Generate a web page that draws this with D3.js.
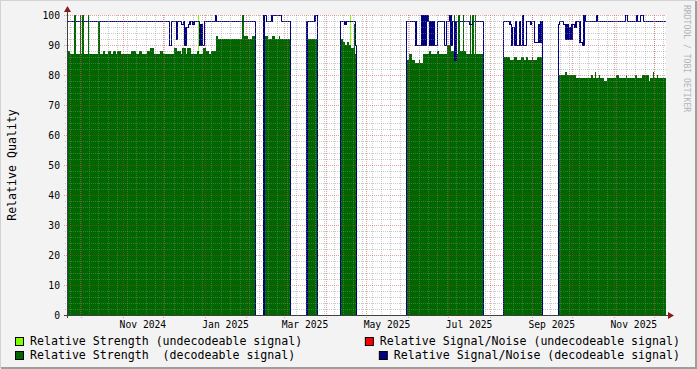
<!DOCTYPE html>
<html>
<head>
<meta charset="utf-8">
<script src="https://cdn.jsdelivr.net/npm/d3@7"></script>
<style>
  body { margin: 0; background: #f3f3f3; }
  svg { display: block; font-family: "DejaVu Sans Mono", monospace; }
  text { white-space: pre; }
</style>
</head>
<body>
<svg id="chart" width="697" height="369"></svg>
<script>
const startTime = "2024-09-20T14:00Z";
const endTime = "2025-12-09T22:00Z";

// change points [day, value]; each value holds until the next day
const strengthDecodeable = [
  ["2024-09-20", 87], ["2024-09-21", 88], ["2024-09-23", 87],
  ["2024-09-26", 100], ["2024-09-27", 87], ["2024-09-30", 100], ["2024-10-01", 87],
  ["2024-10-02", 100], ["2024-10-03", 87], ["2024-10-06", 100], ["2024-10-07", 87],
  ["2024-10-14", 98], ["2024-10-15", 87], ["2024-10-17", 88], ["2024-10-19", 87],
  ["2024-10-21", 88], ["2024-10-23", 87], ["2024-10-25", 88], ["2024-10-27", 87],
  ["2024-10-28", 88], ["2024-10-31", 87], ["2024-11-07", 88], ["2024-11-11", 87],
  ["2024-11-13", 88], ["2024-11-15", 87], ["2024-11-19", 88], ["2024-11-21", 89],
  ["2024-11-24", 87], ["2024-11-29", 88], ["2024-12-01", 87], ["2024-12-09", 89],
  ["2024-12-11", 88], ["2024-12-14", 87], ["2024-12-15", 89], ["2024-12-18", 87],
  ["2024-12-19", 89], ["2024-12-22", 87], ["2024-12-26", 88], ["2024-12-28", 87],
  ["2024-12-31", 89], ["2025-01-02", 88], ["2025-01-04", 87], ["2025-01-06", 88],
  ["2025-01-09", 93], ["2025-01-11", 92], ["2025-01-29", 100], ["2025-01-30", 93],
  ["2025-02-02", 92], ["2025-02-05", 93], ["2025-02-08", 0],
  ["2025-02-14", 93], ["2025-02-17", 92], ["2025-02-20", 93], ["2025-02-22", 92],
  ["2025-02-25", 93], ["2025-02-26", 92], ["2025-03-06", 0],
  ["2025-03-18", 92], ["2025-03-26", 0],
  ["2025-04-12", 92], ["2025-04-14", 91], ["2025-04-15", 90], ["2025-04-17", 91],
  ["2025-04-18", 90], ["2025-04-20", 89], ["2025-04-22", 97], ["2025-04-23", 87],
  ["2025-04-24", 0],
  ["2025-05-31", 85], ["2025-06-02", 87], ["2025-06-04", 85], ["2025-06-06", 84],
  ["2025-06-09", 85], ["2025-06-10", 84], ["2025-06-12", 87], ["2025-06-17", 88],
  ["2025-06-18", 87], ["2025-06-23", 88], ["2025-06-24", 87], ["2025-06-30", 90],
  ["2025-07-02", 100], ["2025-07-03", 88], ["2025-07-05", 100], ["2025-07-06", 87],
  ["2025-07-08", 100], ["2025-07-10", 88], ["2025-07-12", 100], ["2025-07-13", 88],
  ["2025-07-14", 87], ["2025-07-17", 100], ["2025-07-18", 87], ["2025-07-19", 100],
  ["2025-07-20", 87], ["2025-07-21", 100], ["2025-07-22", 87], ["2025-07-27", 0],
  ["2025-08-11", 86], ["2025-08-16", 85], ["2025-08-19", 86], ["2025-08-21", 85],
  ["2025-08-24", 86], ["2025-08-26", 85], ["2025-08-28", 86], ["2025-08-29", 85],
  ["2025-09-01", 86], ["2025-09-02", 85], ["2025-09-05", 86], ["2025-09-09", 0],
  ["2025-09-21", 80], ["2025-09-26", 81], ["2025-09-27", 80], ["2025-10-04", 79],
  ["2025-10-15", 80], ["2025-10-17", 79], ["2025-10-18", 81], ["2025-10-19", 79],
  ["2025-10-21", 80], ["2025-10-22", 79], ["2025-10-25", 78], ["2025-10-27", 79],
  ["2025-11-03", 80], ["2025-11-05", 79], ["2025-11-10", 80], ["2025-11-11", 79],
  ["2025-11-17", 80], ["2025-11-18", 79], ["2025-11-22", 80], ["2025-11-27", 78],
  ["2025-11-28", 79], ["2025-11-30", 81], ["2025-12-01", 79], ["2025-12-03", 80],
  ["2025-12-04", 79]
];

const strengthUndecodeable = [
  ["2024-09-20", 0], ["2024-12-27", 100], ["2024-12-28", 0],
  ["2025-04-19", 100], ["2025-04-20", 0]
];

const snrDecodeable = [
  ["2024-09-20", 98], ["2024-12-06", 90], ["2024-12-07", 98], ["2024-12-11", 92],
  ["2024-12-12", 98], ["2024-12-15", 97], ["2024-12-16", 98], ["2024-12-17", 90],
  ["2024-12-18", 96], ["2024-12-20", 97], ["2024-12-21", 98], ["2024-12-23", 97],
  ["2024-12-24", 98], ["2024-12-28", 90], ["2024-12-29", 97], ["2024-12-30", 90],
  ["2025-01-01", 98], ["2025-01-09", 100], ["2025-01-10", 98], ["2025-02-08", 0],
  ["2025-02-14", 100], ["2025-02-16", 98], ["2025-02-20", 100], ["2025-02-27", 98],
  ["2025-03-06", 0],
  ["2025-03-18", 98], ["2025-03-24", 100], ["2025-03-26", 0],
  ["2025-04-12", 98], ["2025-04-15", 97], ["2025-04-16", 98], ["2025-04-23", 90],
  ["2025-04-24", 0],
  ["2025-05-31", 98], ["2025-06-07", 90], ["2025-06-11", 100], ["2025-06-12", 90],
  ["2025-06-13", 100], ["2025-06-14", 90], ["2025-06-15", 100], ["2025-06-16", 98],
  ["2025-06-17", 90], ["2025-06-18", 98], ["2025-06-19", 90], ["2025-06-20", 98],
  ["2025-06-21", 90], ["2025-06-23", 98], ["2025-06-28", 90], ["2025-06-30", 98],
  ["2025-07-02", 100], ["2025-07-03", 90], ["2025-07-04", 98], ["2025-07-06", 85],
  ["2025-07-07", 98], ["2025-07-17", 97], ["2025-07-19", 98], ["2025-07-27", 0],
  ["2025-08-11", 98], ["2025-08-16", 97], ["2025-08-17", 90], ["2025-08-18", 96],
  ["2025-08-19", 90], ["2025-08-20", 98], ["2025-08-21", 90], ["2025-08-23", 98],
  ["2025-08-24", 90], ["2025-08-25", 100], ["2025-08-26", 90], ["2025-08-28", 98],
  ["2025-08-31", 97], ["2025-09-01", 98], ["2025-09-03", 91], ["2025-09-06", 97],
  ["2025-09-07", 91], ["2025-09-08", 98], ["2025-09-09", 0],
  ["2025-09-21", 97], ["2025-09-22", 98], ["2025-09-25", 97], ["2025-09-26", 92],
  ["2025-09-27", 97], ["2025-09-28", 92], ["2025-09-29", 96], ["2025-09-30", 92],
  ["2025-10-01", 97], ["2025-10-03", 96], ["2025-10-04", 98], ["2025-10-07", 91],
  ["2025-10-09", 90], ["2025-10-10", 100], ["2025-10-11", 98], ["2025-10-19", 100],
  ["2025-10-20", 98], ["2025-11-10", 100], ["2025-11-11", 98], ["2025-11-18", 100],
  ["2025-11-19", 98], ["2025-11-21", 100], ["2025-11-23", 98]
];

const snrUndecodeable = [];

const yTicks = [0, 10, 20, 30, 40, 50, 60, 70, 80, 90, 100];
const xLabelMonths = ["2024-11-01", "2025-01-01", "2025-03-01", "2025-05-01",
  "2025-07-01", "2025-09-01", "2025-11-01"];

const legendLeft = [
  { label: "Relative Strength (undecodeable signal)", color: "#80ff00" },
  { label: "Relative Strength  (decodeable signal)", color: "#006600" }
];
const legendRight = [
  { label: "Relative Signal/Noise (undecodeable signal)", color: "#ff0000" },
  { label: "Relative Signal/Noise (decodeable signal)", color: "#000080" }
];

const width = 697;
const height = 369;
const plot = { left: 67, right: 666, top: 15, bottom: 315 };

const parseDay = d3.utcParse("%Y-%m-%d");
const t0 = d3.isoParse(startTime);
const t1 = d3.isoParse(endTime);

const x = d3.scaleUtc().domain([t0, t1]).range([plot.left, plot.right]);
const y = d3.scaleLinear().domain([0, 100]).range([plot.bottom, plot.top]);

function steps(points) {
  const pts = points.map(([d, v]) => ({ t: parseDay(d), v }));
  if (pts.length) pts.push({ t: t1, v: pts[pts.length - 1].v });
  return pts;
}

const svg = d3.select("#chart");

// background and shaded frame
svg.append("rect").attr("width", width).attr("height", height).attr("fill", "#f3f3f3");
svg.append("path").attr("d", `M0,${height - 1}V0H${width - 1}`)
  .attr("stroke", "#d2d2d2").attr("stroke-width", 2).attr("fill", "none");
svg.append("path").attr("d", `M1,${height - 1}H${width - 1}V1`)
  .attr("stroke", "#9e9e9e").attr("stroke-width", 2).attr("fill", "none");

svg.append("defs").append("clipPath").attr("id", "clip")
  .append("rect").attr("x", plot.left).attr("y", plot.top)
  .attr("width", plot.right - plot.left).attr("height", plot.bottom - plot.top);

svg.append("rect").attr("x", plot.left).attr("y", plot.top)
  .attr("width", plot.right - plot.left).attr("height", plot.bottom - plot.top)
  .attr("fill", "#ffffff");

const g = svg.append("g").attr("clip-path", "url(#clip)");

const area = d3.area().curve(d3.curveStepAfter)
  .x(d => x(d.t)).y0(y(0)).y1(d => y(d.v));
const line = d3.line().curve(d3.curveStepAfter)
  .x(d => x(d.t)).y(d => Math.round(y(d.v)) + 0.5);

g.append("path").datum(steps(strengthUndecodeable))
  .attr("fill", "#80ff00").attr("shape-rendering", "crispEdges").attr("d", area);
g.append("path").datum(steps(strengthDecodeable))
  .attr("fill", "#006600").attr("shape-rendering", "crispEdges").attr("d", area);
if (snrUndecodeable.length) {
  g.append("path").datum(steps(snrUndecodeable))
    .attr("fill", "none").attr("stroke", "#ff0000").attr("d", line);
}
g.append("path").datum(steps(snrDecodeable))
  .attr("fill", "none").attr("stroke", "#000080").attr("stroke-width", 1.2)
  .attr("shape-rendering", "crispEdges").attr("d", line);

// grid on top of the data, rrdtool style
const grid = svg.append("g").attr("shape-rendering", "crispEdges");
const weeks = d3.utcMonday.range(t0, t1);
const months = d3.utcMonth.range(t0, t1);
const minorY = d3.range(0, 101, 2).filter(v => v % 10 !== 0);

grid.selectAll(".vminor").data(weeks).join("line")
  .attr("x1", d => Math.round(x(d)) + 0.5).attr("x2", d => Math.round(x(d)) + 0.5)
  .attr("y1", plot.top).attr("y2", plot.bottom + 2)
  .attr("stroke", "#8c8c8c").attr("stroke-opacity", 0.45).attr("stroke-dasharray", "1,1");
grid.selectAll(".hminor").data(minorY).join("line")
  .attr("x1", plot.left - 2).attr("x2", plot.right)
  .attr("y1", d => y(d) + 0.5).attr("y2", d => y(d) + 0.5)
  .attr("stroke", "#8c8c8c").attr("stroke-opacity", 0.45).attr("stroke-dasharray", "1,1");
grid.selectAll(".vmajor").data(months).join("line")
  .attr("x1", d => Math.round(x(d)) + 0.5).attr("x2", d => Math.round(x(d)) + 0.5)
  .attr("y1", plot.top).attr("y2", plot.bottom + 3)
  .attr("stroke", "#c83232").attr("stroke-opacity", 0.45).attr("stroke-dasharray", "1,1");
grid.selectAll(".hmajor").data(yTicks).join("line")
  .attr("x1", plot.left - 3).attr("x2", plot.right)
  .attr("y1", d => y(d) + 0.5).attr("y2", d => y(d) + 0.5)
  .attr("stroke", "#c83232").attr("stroke-opacity", 0.45).attr("stroke-dasharray", "1,1");

// axes
const axis = svg.append("g").attr("shape-rendering", "crispEdges");
axis.append("line").attr("x1", plot.left - 3).attr("x2", plot.right + 4)
  .attr("y1", plot.bottom + 0.5).attr("y2", plot.bottom + 0.5).attr("stroke", "#404040");
axis.append("line").attr("x1", plot.left + 0.5).attr("x2", plot.left + 0.5)
  .attr("y1", plot.bottom + 3).attr("y2", plot.top - 4).attr("stroke", "#404040");
svg.append("path")
  .attr("d", `M${plot.left - 3},${plot.top - 3}L${plot.left + 4},${plot.top - 3}L${plot.left + 0.5},${plot.top - 9}Z`)
  .attr("fill", "#8b1a1a");
svg.append("path")
  .attr("d", `M${plot.right + 2},${plot.bottom - 3}L${plot.right + 2},${plot.bottom + 4}L${plot.right + 8},${plot.bottom + 0.5}Z`)
  .attr("fill", "#8b1a1a");

svg.append("g").selectAll("text").data(yTicks).join("text")
  .attr("x", 60).attr("y", d => y(d) + 3.5)
  .attr("text-anchor", "end").attr("font-size", "9.7px").attr("fill", "#000")
  .text(d => d);

const fmt = d3.utcFormat("%b %Y");
svg.append("g").selectAll("text").data(xLabelMonths.map(parseDay)).join("text")
  .attr("x", d => (x(d) + x(d3.utcMonth.offset(d, 1))) / 2)
  .attr("y", 328)
  .attr("text-anchor", "middle").attr("font-size", "9.7px").attr("fill", "#000")
  .text(d => fmt(d));

svg.append("text")
  .attr("transform", `translate(16,${(plot.top + plot.bottom) / 2}) rotate(-90)`)
  .attr("text-anchor", "middle").attr("font-size", "11.6px").attr("fill", "#000")
  .text("Relative Quality");

svg.append("text")
  .attr("transform", "translate(684,5) rotate(90)")
  .attr("font-size", "8.1px").attr("fill", "#b4b4b4")
  .text("RRDTOOL / TOBI OETIKER");

// legend
const rowY = [345, 359];
legendLeft.forEach((item, i) => {
  svg.append("rect").attr("x", 15.5).attr("y", rowY[i] - 7.5).attr("width", 8).attr("height", 8)
    .attr("fill", item.color).attr("stroke", "#000");
  svg.append("text").attr("x", 30).attr("y", rowY[i])
    .attr("font-size", "11.6px").attr("fill", "#000").text(item.label);
});
legendRight.forEach((item, i) => {
  const t = svg.append("text").attr("x", 680).attr("y", rowY[i])
    .attr("text-anchor", "end").attr("font-size", "11.6px").attr("fill", "#000").text(item.label);
  const w = t.node().getComputedTextLength();
  svg.append("rect").attr("x", 680 - w - 14.5).attr("y", rowY[i] - 7.5).attr("width", 8).attr("height", 8)
    .attr("fill", item.color).attr("stroke", "#000");
});
</script>
</body>
</html>
